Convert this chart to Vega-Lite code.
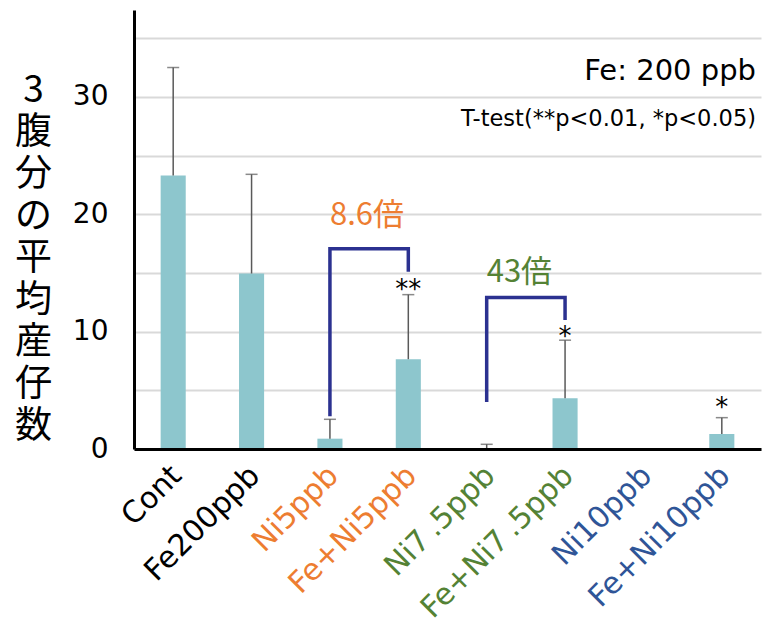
{
  "$schema": "https://vega.github.io/schema/vega-lite/v6.json",
  "width": 627,
  "height": 439,
  "autosize": {"type": "none"},
  "padding": {"left": 134, "top": 10, "right": 4, "bottom": 176},
  "background": "white",
  "config": {"view": {"stroke": null}, "font": "DejaVu Sans"},
  "title": {
    "text": "Fe: 200 ppb",
    "subtitle": "T-test(**p<0.01, *p<0.05)",
    "anchor": "end",
    "frame": "group",
    "orient": "top",
    "offset": -120,
    "dx": -5,
    "font": "DejaVu Sans",
    "fontSize": 29,
    "fontWeight": "normal",
    "color": "black",
    "subtitleFont": "DejaVu Sans",
    "subtitleFontSize": 22.5,
    "subtitleColor": "black",
    "subtitlePadding": 22
  },
  "datasets": {
    "bars": [
      {"Group": "Cont", "mean": 23.3, "upper": 32.5},
      {"Group": "Fe200ppb", "mean": 14.95, "upper": 23.4},
      {"Group": "Ni5ppb", "mean": 0.88, "upper": 2.53},
      {"Group": "Fe+Ni5ppb", "mean": 7.65, "upper": 13.15},
      {"Group": "Ni7\u2009.5ppb", "mean": 0, "upper": 0.4},
      {"Group": "Fe+Ni7\u2009.5ppb", "mean": 4.32, "upper": 9.27},
      {"Group": "Ni10ppb", "mean": 0, "upper": null},
      {"Group": "Fe+Ni10ppb", "mean": 1.28, "upper": 2.67}
    ],
    "brackets": [
      {"bracket": "A", "Group": "Ni5ppb", "y": 2.8, "step": 1},
      {"bracket": "A", "Group": "Ni5ppb", "y": 17.05, "step": 2},
      {"bracket": "A", "Group": "Fe+Ni5ppb", "y": 17.05, "step": 3},
      {"bracket": "A", "Group": "Fe+Ni5ppb", "y": 15.1, "step": 4},
      {"bracket": "B", "Group": "Ni7\u2009.5ppb", "y": 4.0, "step": 1},
      {"bracket": "B", "Group": "Ni7\u2009.5ppb", "y": 12.9, "step": 2},
      {"bracket": "B", "Group": "Fe+Ni7\u2009.5ppb", "y": 12.9, "step": 3},
      {"bracket": "B", "Group": "Fe+Ni7\u2009.5ppb", "y": 11.0, "step": 4}
    ],
    "stars": [
      {"Group": "Fe+Ni5ppb", "y": 12.85, "label": "**"},
      {"Group": "Fe+Ni7\u2009.5ppb", "y": 8.88, "label": "*"},
      {"Group": "Fe+Ni10ppb", "y": 2.79, "label": "*"}
    ],
    "folds": [
      {"Group": "Ni5ppb", "y": 19.1, "label": "8.6倍", "series": "Ni5"},
      {"Group": "Ni7\u2009.5ppb", "y": 14.26, "label": "43倍", "series": "Ni7.5"}
    ]
  },
  "layer": [
    {
      "data": {"name": "bars"},
      "mark": {"type": "bar", "color": "#8dc6cd"},
      "encoding": {
        "x": {
          "field": "Group",
          "type": "nominal",
          "sort": null,
          "scale": {"paddingInner": 0.68, "paddingOuter": 0.34},
          "axis": {
            "title": null,
            "zindex": 1,
            "domain": true,
            "domainColor": "black",
            "domainWidth": 3,
            "ticks": false,
            "grid": false,
            "labelAngle": -45,
            "labelAlign": "right",
            "labelBaseline": "top",
            "labelFont": "DejaVu Sans",
            "labelFontSize": 30,
            "labelPadding": 11,
            "labelOffset": -7,
            "labelLimit": 400,
            "labelOverlap": false,
            "labelBound": false,
            "labelFlush": false,
            "labelColor": {"expr": "indexof(['Ni5ppb','Fe+Ni5ppb'], datum.value) >= 0 ? '#ed7d31' : indexof(['Ni10ppb','Fe+Ni10ppb'], datum.value) >= 0 ? '#2f5597' : indexof(['Cont','Fe200ppb'], datum.value) >= 0 ? 'black' : '#548235'"}
          }
        },
        "y": {
          "field": "mean",
          "type": "quantitative",
          "scale": {"domain": [0, 37.4], "nice": false, "zero": true},
          "axis": {
            "values": [0, 5, 10, 15, 20, 25, 30, 35],
            "labelExpr": "datum.value % 10 === 0 ? datum.label : ''",
            "grid": true,
            "gridColor": "#d9d9d9",
            "gridWidth": 2,
            "ticks": false,
            "domain": true,
            "domainColor": "black",
            "domainWidth": 3,
            "labelFont": "DejaVu Sans",
            "labelFontSize": 28,
            "labelColor": "black",
            "labelPadding": 26,
            "labelBaseline": "middle",
            "title": ["3", "腹", "分", "の", "平", "均", "産", "仔", "数"],
            "titleAngle": 0,
            "titleAlign": "center",
            "titleBaseline": "top",
            "titleX": -101,
            "titleY": 62,
            "titleFont": "Noto Sans CJK JP",
            "titleFontSize": 37,
            "titleFontWeight": "normal",
            "titleLineHeight": 42,
            "titleColor": "black"
          }
        }
      }
    },
    {
      "data": {"name": "bars"},
      "transform": [{"filter": "datum.upper != null"}],
      "mark": {"type": "rule", "color": "#595959", "strokeWidth": 1.5},
      "encoding": {
        "x": {"field": "Group", "type": "nominal", "sort": null},
        "y": {"field": "mean", "type": "quantitative"},
        "y2": {"field": "upper"}
      }
    },
    {
      "data": {"name": "bars"},
      "transform": [{"filter": "datum.upper != null"}],
      "mark": {"type": "tick", "color": "#595959", "size": 12, "thickness": 1.5, "orient": "horizontal"},
      "encoding": {
        "x": {"field": "Group", "type": "nominal", "sort": null},
        "y": {"field": "upper", "type": "quantitative"}
      }
    },
    {
      "data": {"name": "brackets"},
      "mark": {"type": "line", "color": "#2b3190", "strokeWidth": 3.5, "strokeJoin": "miter", "strokeCap": "butt"},
      "encoding": {
        "x": {"field": "Group", "type": "nominal", "sort": null},
        "y": {"field": "y", "type": "quantitative"},
        "detail": {"field": "bracket"},
        "order": {"field": "step"}
      }
    },
    {
      "data": {"name": "stars"},
      "mark": {"type": "text", "font": "DejaVu Sans", "fontSize": 26, "color": "black", "align": "center", "baseline": "alphabetic"},
      "encoding": {
        "x": {"field": "Group", "type": "nominal", "sort": null},
        "y": {"field": "y", "type": "quantitative"},
        "text": {"field": "label"}
      }
    },
    {
      "data": {"name": "folds"},
      "mark": {"type": "text", "font": "Noto Sans CJK JP", "fontSize": 31, "align": "left", "baseline": "alphabetic"},
      "encoding": {
        "x": {"field": "Group", "type": "nominal", "sort": null},
        "y": {"field": "y", "type": "quantitative"},
        "text": {"field": "label"},
        "color": {"field": "series", "type": "nominal", "scale": {"domain": ["Ni5", "Ni7.5"], "range": ["#ed7d31", "#548235"]}, "legend": null}
      }
    }
  ]
}
